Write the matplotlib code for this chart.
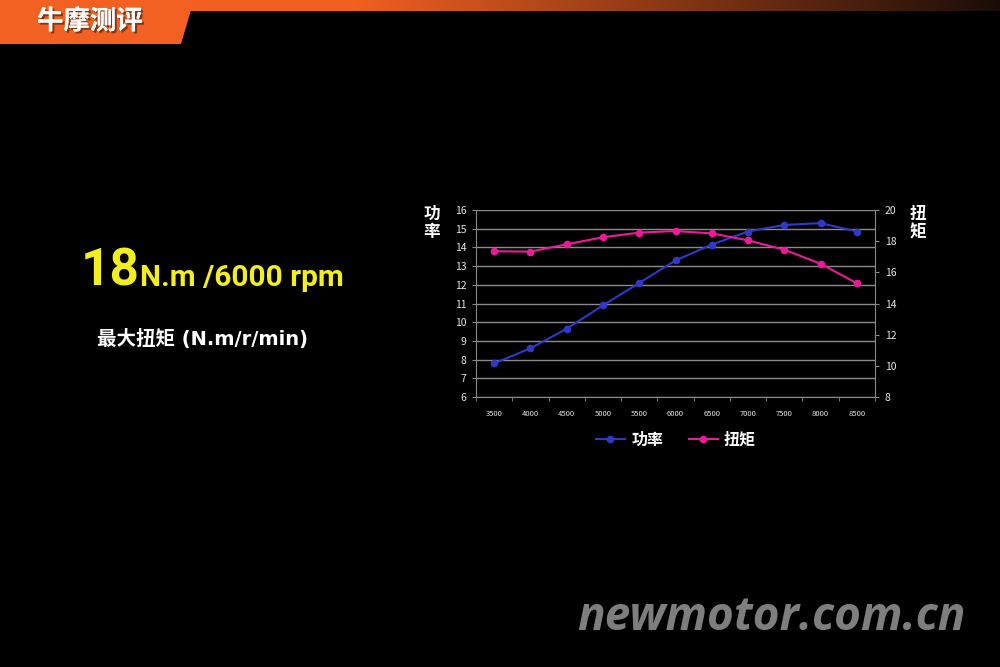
import numpy as np
import matplotlib
matplotlib.use("Agg")
import matplotlib.pyplot as plt
from matplotlib.patches import Polygon
import matplotlib.patheffects as pe

plt.rcParams['font.family'] = ['Noto Sans CJK SC', 'DejaVu Sans']

# ---- data ----
rpm = ["3500", "4000", "4500", "5000", "5500", "6000", "6500", "7000", "7500", "8000", "8500"]
power = [7.8, 8.6, 9.65, 10.9, 12.1, 13.3, 14.15, 14.85, 15.2, 15.3, 14.85]
torque = [17.35, 17.33, 17.8, 18.25, 18.55, 18.65, 18.5, 18.05, 17.45, 16.55, 15.3]
left_ticks = list(range(6, 17))
right_ticks = list(range(8, 21, 2))
series_names = ["功率", "扭矩"]
headline_value = "18"
headline_unit = "N.m /6000 rpm"
subtitle = "最大扭矩 (N.m/r/min)"
brand = "牛摩测评"
watermark = "newmotor.com.cn"

BLUE = "#3038C8"
PINK = "#EC1A9A"
GRID = "#8A8A8A"
TXT = "#E6E6E6"
HEAD = ["Roboto", "DejaVu Sans"]
WIDE = ["DejaVu Sans", "Noto Sans CJK SC"]

W, H = 1000, 667
fig = plt.figure(figsize=(10, 6.67), dpi=100, facecolor="black")

# ---- background / decorations ----
bg = fig.add_axes([0, 0, 1, 1])
bg.set_xlim(0, W)
bg.set_ylim(H, 0)
bg.axis("off")
bg.set_facecolor("black")
grad = np.linspace(0, 1, 512)
c0 = np.array([0.95, 0.38, 0.13])
c1 = np.array([0.10, 0.05, 0.03])
t = np.clip((grad - 0.35) / 0.65, 0, 1)[:, None]
cols = c0 * (1 - t) + c1 * t
bg.imshow(cols[None, :, :], extent=(0, W, 11, 0), aspect="auto", zorder=1)
bg.add_patch(Polygon([[0, 0], [194, 0], [181, 44], [0, 44]], closed=True,
                     facecolor="#F26122", edgecolor="none", zorder=2))
bg.text(37, 21.5, brand, color="white", fontsize=19, fontweight="bold",
        va="center", ha="left", zorder=4,
        path_effects=[pe.withSimplePatchShadow(offset=(1.5, -1.5), shadow_rgbFace="#3A1A0A", alpha=0.6),
                      pe.Normal()])

# headline
bg.text(81, 286, headline_value, color="#F2EE1F", fontsize=37, fontweight="bold",
        family=HEAD, va="baseline", ha="left")
bg.text(140, 286, headline_unit, color="#F2EE1F", fontsize=21.5, fontweight="bold",
        family=HEAD, va="baseline", ha="left")
bg.text(97, 339, subtitle, color="white", fontsize=14, fontweight="bold",
        family=WIDE, va="center", ha="left")

# watermark
bg.text(966, 617, watermark, color="#7E7E7E", fontsize=33, fontweight="bold",
        fontstyle="italic", family=["Open Sans", "DejaVu Sans"], va="center", ha="right")

# axis titles (vertical stacked)
bg.text(432, 223, "\n".join(series_names[0]), color="white", fontsize=12,
        fontweight="bold", va="center", ha="center", linespacing=1.0)
bg.text(918, 223, "\n".join(series_names[1]), color="white", fontsize=12,
        fontweight="bold", va="center", ha="center", linespacing=1.0)

# ---- chart ----
ax = fig.add_axes([476 / W, 1 - 397 / H, (875 - 476) / W, (397 - 210) / H])
ax.set_facecolor("none")
x = np.arange(len(rpm))
ax.set_xlim(-0.5, len(rpm) - 0.5)
ax.set_ylim(left_ticks[0], left_ticks[-1])
ax.set_yticks(left_ticks)
ax.yaxis.grid(True, color=GRID, linewidth=1.0)
ax.set_axisbelow(True)
ax.set_xticks(x)
ax.set_xticklabels(rpm)
ax.set_xticks(np.arange(-0.5, len(rpm)), minor=True)
ax.tick_params(axis="x", which="major", length=0, labelsize=5.5, colors=TXT, pad=9)
ax.tick_params(axis="x", which="minor", length=3, color=GRID, direction="out")
ax.tick_params(axis="y", length=3, color=GRID, labelsize=7.5, labelcolor=TXT, pad=4)
for s in ["top", "right"]:
    ax.spines[s].set_visible(False)
for s in ["left", "bottom"]:
    ax.spines[s].set_color(GRID)

ax2 = ax.twinx()
ax2.set_ylim(right_ticks[0], right_ticks[-1])
ax2.set_yticks(right_ticks)
ax2.tick_params(axis="y", length=3, color=GRID, labelsize=7.5, labelcolor=TXT, pad=4)
for s in ["top", "left", "bottom"]:
    ax2.spines[s].set_visible(False)
ax2.spines["right"].set_color(GRID)

l1, = ax.plot(x, power, color=BLUE, linewidth=1.5, marker="o", markersize=4.5,
              label=series_names[0], zorder=3)
l2, = ax2.plot(x, torque, color=PINK, linewidth=1.5, marker="o", markersize=4.5,
               label=series_names[1], zorder=3)

leg = fig.legend([l1, l2], series_names, loc="center", bbox_to_anchor=(676 / W, 1 - 440 / H),
                 ncol=2, frameon=False, fontsize=11.5, handlelength=1.8,
                 columnspacing=1.6, handletextpad=0.4)
for txt in leg.get_texts():
    txt.set_color("white")
    txt.set_fontweight("bold")

fig.savefig("out.png", dpi=100, facecolor="black")
